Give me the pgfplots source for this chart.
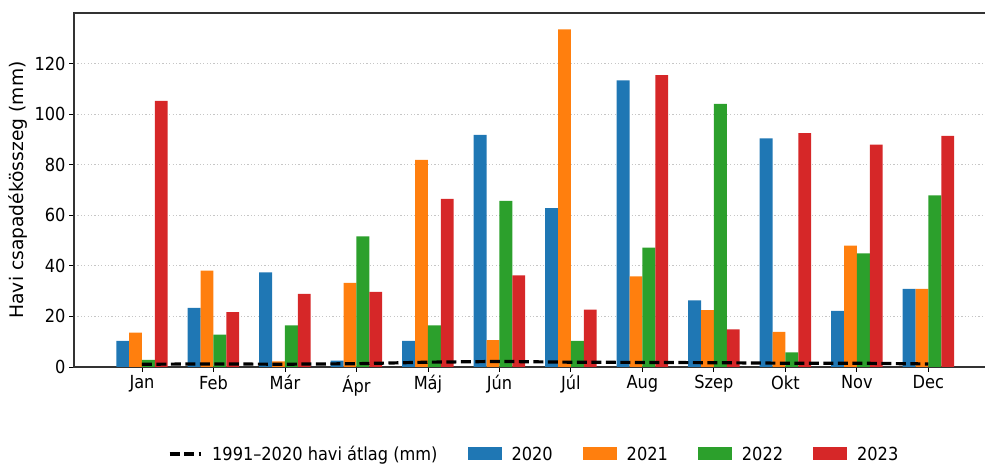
\documentclass[border=0pt]{standalone}
\usepackage{fontspec}
\setmainfont{DejaVu Sans Condensed}
\newfontfamily\labelfont{DejaVu Sans}
\usepackage{pgfplots}
\pgfplotsset{compat=1.18}
\definecolor{c0}{HTML}{1F77B4}
\definecolor{c1}{HTML}{FF7F0E}
\definecolor{c2}{HTML}{2CA02C}
\definecolor{c3}{HTML}{D62728}
\pgfplotsset{
  barleg/.style={legend image code/.code={\fill[##1,draw=none] (0pt,-6pt) rectangle (34pt,7pt);}},
  dashleg/.style={legend image code/.code={\draw[black, line width=3.2pt, dash pattern=on 10pt off 4.5pt] (0pt,0pt) -- (31pt,0pt);}},
}
\begin{document}
\begin{tikzpicture}
\begin{axis}[
  at={(74pt,98pt)}, anchor=south west,
  width=913pt, height=354pt, scale only axis,
  xmin=-0.951, xmax=11.82, ymin=0, ymax=140,
  xtick={0,...,11},
  xticklabels={Jan,Feb,Már,Ápr,Máj,Jún,Júl,Aug,Szep,Okt,Nov,Dec},
  ytick={0,20,...,120},
  tick pos=left, tick align=outside,
  major tick length=5pt,
  tick style={black, line width=0.9pt},
  ymajorgrids,
  grid style={gray!45, line width=0.9pt, dash pattern=on 1.2pt off 2.2pt},
  axis line style={black!80, line width=1.3pt},
  font=\fontsize{18}{21}\selectfont,
  tick label style={font=\fontsize{18}{21}\selectfont},
  /pgf/number format/assume math mode=true,
  ylabel={Havi csapadékösszeg (mm)},
  every axis y label/.style={at={(axis description cs:-0.061,0.5)}, rotate=90, anchor=center, font=\labelfont\fontsize{18.7}{21}\selectfont},
  legend columns=5,
  legend cell align=left,
  legend style={draw=none, fill=none, at={(0.504,-0.246)}, anchor=center,
    font=\fontsize{18}{21}\selectfont,
    /tikz/every odd column/.append style={column sep=8pt},
    /tikz/every even column/.append style={column sep=28pt}},
]
\addlegendimage{black, line width=3.2pt, dash pattern=on 10pt off 4.5pt, dashleg}
\addlegendentry{1991–2020 havi átlag (mm)}

\addplot[ybar, bar width=0.18, bar shift=-0.27, fill=c0, draw=none, barleg] coordinates {
(0,10.3) (1,23.4) (2,37.4) (3,2.5) (4,10.3) (5,91.8) (6,62.8) (7,113.4) (8,26.3) (9,90.4) (10,22.2) (11,30.9)};
\addlegendentry{2020}
\addplot[ybar, bar width=0.18, bar shift=-0.09, fill=c1, draw=none, barleg] coordinates {
(0,13.6) (1,38.1) (2,2.2) (3,33.3) (4,81.9) (5,10.6) (6,133.5) (7,35.8) (8,22.5) (9,13.9) (10,48.0) (11,30.9)};
\addlegendentry{2021}
\addplot[ybar, bar width=0.18, bar shift=0.09, fill=c2, draw=none, barleg] coordinates {
(0,2.8) (1,12.8) (2,16.5) (3,51.7) (4,16.5) (5,65.7) (6,10.3) (7,47.2) (8,104.1) (9,5.8) (10,44.9) (11,67.9)};
\addlegendentry{2022}
\addplot[ybar, bar width=0.18, bar shift=0.27, fill=c3, draw=none, barleg] coordinates {
(0,105.2) (1,21.7) (2,28.9) (3,29.7) (4,66.5) (5,36.2) (6,22.7) (7,115.4) (8,14.9) (9,92.5) (10,87.9) (11,91.4)};
\addlegendentry{2023}

\addplot[black, line width=3.2pt, dash pattern=on 10pt off 4.5pt, sharp plot, no marks, forget plot] coordinates {
(0,1.1) (1,1.2) (2,1.1) (3,1.3) (4,1.9) (5,2.2) (6,1.9) (7,1.8) (8,1.7) (9,1.5) (10,1.5) (11,1.2)};
\end{axis}
\pgfresetboundingbox
\useasboundingbox (0,0) rectangle (985pt,465pt);
\end{tikzpicture}
\end{document}
